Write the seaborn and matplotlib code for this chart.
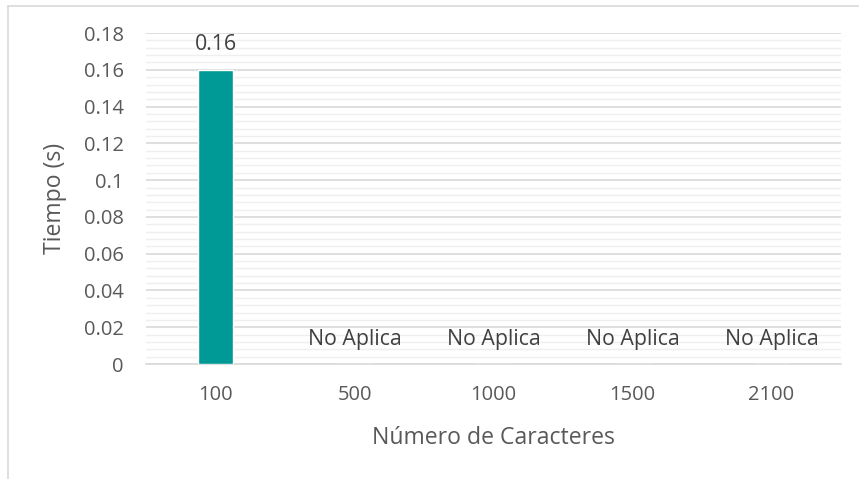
import matplotlib
matplotlib.use("Agg")
import matplotlib.pyplot as plt
from matplotlib.lines import Line2D
from matplotlib.ticker import MultipleLocator
import numpy as np
import pandas as pd
import seaborn as sns

# Datos
caracteres = ["100", "500", "1000", "1500", "2100"]
tiempos = [0.16, 0.0, 0.0, 0.0, 0.0]
etiquetas = ["0.16", "No Aplica", "No Aplica", "No Aplica", "No Aplica"]
yticks = [0, 0.02, 0.04, 0.06, 0.08, 0.1, 0.12, 0.14, 0.16, 0.18]
ytick_labels = ["0", "0.02", "0.04", "0.06", "0.08", "0.1", "0.12", "0.14", "0.16", "0.18"]

df = pd.DataFrame({"Caracteres": caracteres, "Tiempo": tiempos})

sns.set_theme(style="white")
plt.rcParams["font.family"] = ["Open Sans", "DejaVu Sans"]
texto = "#595959"

fig = plt.figure(figsize=(8.59, 4.79), dpi=100)
ax = fig.add_axes([0.170, 0.240, 0.809, 0.691])

sns.barplot(data=df, x="Caracteres", y="Tiempo", color="#009A96",
            saturation=1, width=0.25, ax=ax, zorder=3)

ax.set_ylim(0, 0.18)
ax.set_yticks(yticks)
ax.set_yticklabels(ytick_labels)
ax.yaxis.set_minor_locator(MultipleLocator(0.004))
ax.grid(axis="y", which="major", color="#D9D9D9", linewidth=1.2, zorder=0)
ax.grid(axis="y", which="minor", color="#EFEFEF", linewidth=1.0, zorder=0)
ax.set_axisbelow(True)

for s in ["top", "right", "left"]:
    ax.spines[s].set_visible(False)
ax.spines["bottom"].set_color("#D9D9D9")
ax.spines["bottom"].set_linewidth(1.2)

ax.tick_params(axis="both", which="both", length=0, labelsize=14.5, labelcolor=texto)
ax.tick_params(axis="y", pad=16)
ax.tick_params(axis="x", pad=15)

ax.set_xlabel("Número de Caracteres", fontsize=16.6, color=texto)
ax.set_ylabel("Tiempo (s)", fontsize=16.6, color=texto)
ax.xaxis.set_label_coords(0.5, -0.188)
ax.yaxis.set_label_coords(-0.114, 0.5)

for i, (v, lab) in enumerate(zip(tiempos, etiquetas)):
    ax.annotate(lab, (i, v), xytext=(0, 18), textcoords="offset points",
                ha="center", va="center", fontsize=15.3, color="#404040")

# Borde del gráfico
fig.add_artist(Line2D([7.5 / 859, 1], [1 - 5.5 / 479, 1 - 5.5 / 479],
                      color="#D9D9D9", linewidth=1.2, transform=fig.transFigure))
fig.add_artist(Line2D([7.5 / 859, 7.5 / 859], [0, 1 - 5.5 / 479],
                      color="#D9D9D9", linewidth=1.2, transform=fig.transFigure))

fig.savefig("out.png", dpi=100)
